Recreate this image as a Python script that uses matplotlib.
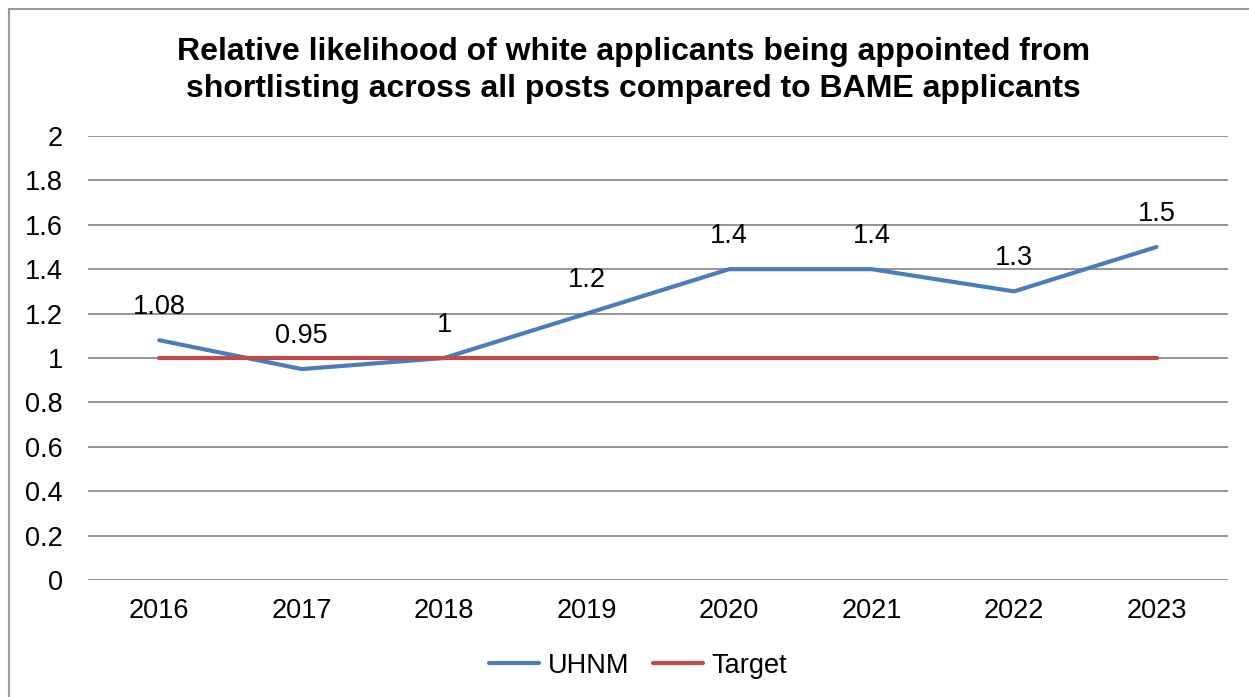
import matplotlib
matplotlib.use('Agg')
import matplotlib.pyplot as plt
from matplotlib.patches import Rectangle

plt.rcParams['font.family'] = ['Liberation Sans', 'DejaVu Sans']

years = ['2016', '2017', '2018', '2019', '2020', '2021', '2022', '2023']
uhnm = [1.08, 0.95, 1, 1.2, 1.4, 1.4, 1.3, 1.5]
target = [1, 1, 1, 1, 1, 1, 1, 1]
yticks = [0, 0.2, 0.4, 0.6, 0.8, 1, 1.2, 1.4, 1.6, 1.8, 2]

fig = plt.figure(figsize=(12.49, 6.97), dpi=100)
ax = fig.add_axes([0.0705, 0.1679, 0.9125, 0.637])

# outer chart border (right and bottom are cut off in the reference)
fig.patches.append(Rectangle((9/1249, -0.2), 1.5, 1.2 - 9/697,
                             transform=fig.transFigure, fill=False,
                             edgecolor='#999999', linewidth=1.5))

x = range(len(years))
ax.plot(x, uhnm, color='#4A7EBB', lw=3, solid_capstyle='round', label='UHNM', zorder=3)
ax.plot(x, target, color='#BE4B48', lw=3, solid_capstyle='round', label='Target', zorder=3)

for i, v in enumerate(uhnm):
    ax.annotate(f'{v:g}', (i, v), xytext=(0, 24), textcoords='offset points',
                ha='center', va='center', fontsize=19.5)

ax.set_xlim(-0.5, 7.5)
ax.set_ylim(0, 2)
ax.set_xticks(list(x))
ax.set_xticklabels(years, fontsize=19.5)
ax.set_yticks(yticks)
ax.set_yticklabels([f'{t:g}' for t in yticks], fontsize=19.5)
ax.tick_params(axis='x', length=0, pad=13)
ax.tick_params(axis='y', length=0, pad=18)
ax.grid(axis='y', color='#8c8c8c', lw=1.3)
ax.set_axisbelow(True)
for s in ax.spines.values():
    s.set_visible(False)

fig.text(0.507, 0.899, 'Relative likelihood of white applicants being appointed from\n'
         'shortlisting across all posts compared to BAME applicants',
         ha='center', va='center', fontsize=23, fontweight='bold', linespacing=1.28)

fig.legend(loc='center', bbox_to_anchor=(0.511, 0.045), ncol=2, frameon=False,
           fontsize=19.5, handlelength=1.85, handletextpad=0.3, columnspacing=0.9)

fig.savefig('out.png', dpi=100)
